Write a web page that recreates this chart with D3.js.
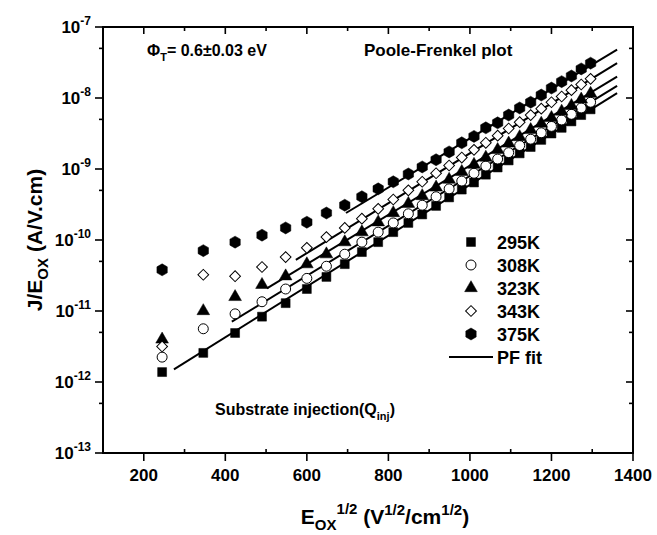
<!DOCTYPE html>
<html>
<head>
<meta charset="utf-8">
<script src="https://cdn.jsdelivr.net/npm/d3@7"></script>
<style>
  body { margin: 0; background: #fff; }
  svg { font-family: "Liberation Sans", Arial, sans-serif; font-weight: bold; }
  .axis-line { stroke: #000; stroke-width: 2; fill: none; }
  .tick { stroke: #000; stroke-width: 1.6; }
  .fit { stroke: #000; stroke-width: 2; fill: none; }
</style>
</head>
<body>
<svg id="chart" width="657" height="535"></svg>
<script>
// sqrt(E) values, V^1/2/cm^1/2
var eSqrt = [245, 346, 424, 490, 548, 600, 648, 693, 735, 775, 812, 849, 883, 917,
             949, 980, 1010, 1039, 1068, 1095, 1122, 1149, 1175, 1200, 1225, 1249, 1273, 1296];

// J/E (A/V.cm) per temperature
var j295 = [1.38e-12, 2.57e-12, 4.90e-12, 8.32e-12, 1.29e-11, 2.04e-11, 3.02e-11, 4.57e-11, 6.76e-11,
            9.33e-11, 1.29e-10, 1.74e-10, 2.29e-10, 3.02e-10, 3.98e-10, 5.13e-10, 6.46e-10, 8.32e-10,
            1.05e-9, 1.32e-9, 1.66e-9, 2.04e-9, 2.57e-9, 3.16e-9, 3.80e-9, 4.68e-9, 5.75e-9, 6.92e-9];
var j308 = [2.24e-12, 5.62e-12, 9.12e-12, 1.35e-11, 2.04e-11, 2.88e-11, 4.27e-11, 6.31e-11, 9.33e-11,
            1.29e-10, 1.74e-10, 2.34e-10, 3.09e-10, 4.07e-10, 5.25e-10, 6.76e-10, 8.71e-10, 1.10e-9,
            1.38e-9, 1.70e-9, 2.14e-9, 2.63e-9, 3.24e-9, 3.98e-9, 4.90e-9, 5.89e-9, 7.24e-9, 8.71e-9];
var j323 = [3.98e-12, 1.00e-11, 1.58e-11, 2.34e-11, 3.09e-11, 4.57e-11, 6.31e-11, 9.33e-11, 1.29e-10,
            1.78e-10, 2.40e-10, 3.24e-10, 4.17e-10, 5.50e-10, 7.08e-10, 9.12e-10, 1.15e-9, 1.45e-9,
            1.86e-9, 2.29e-9, 2.82e-9, 3.55e-9, 4.37e-9, 5.25e-9, 6.46e-9, 7.76e-9, 9.55e-9, 1.15e-8];
var j343 = [3.16e-12, 3.24e-11, 3.09e-11, 4.17e-11, 5.75e-11, 7.76e-11, 1.10e-10, 1.48e-10, 2.00e-10,
            2.75e-10, 3.72e-10, 5.01e-10, 6.61e-10, 8.71e-10, 1.12e-9, 1.45e-9, 1.86e-9, 2.34e-9,
            2.95e-9, 3.72e-9, 4.57e-9, 5.75e-9, 7.08e-9, 8.71e-9, 1.05e-8, 1.29e-8, 1.55e-8, 1.86e-8];
var j375 = [3.80e-11, 7.08e-11, 9.33e-11, 1.17e-10, 1.48e-10, 1.78e-10, 2.40e-10, 3.09e-10, 4.07e-10,
            5.25e-10, 6.61e-10, 8.51e-10, 1.07e-9, 1.35e-9, 1.74e-9, 2.34e-9, 2.88e-9, 3.80e-9,
            4.47e-9, 5.75e-9, 7.24e-9, 8.71e-9, 1.10e-8, 1.38e-8, 1.70e-8, 2.04e-8, 2.57e-8, 3.09e-8];

// PF fit lines: [x0, y0, x1, y1]
var fit295 = [274, 1.51e-12, 1361, 1.17e-8];
var fit308 = [416, 7.08e-12, 1361, 1.48e-8];
var fit323 = [502, 2.09e-11, 1361, 2.00e-8];
var fit343 = [573, 5.25e-11, 1361, 3.09e-8];
var fit375 = [696, 2.40e-10, 1361, 4.79e-8];

var seriesNames = ["295K", "308K", "323K", "343K", "375K"];
var xTicks = [200, 400, 600, 800, 1000, 1200, 1400];
var yExponents = [-7, -8, -9, -10, -11, -12, -13];

(function() {
var svg = d3.select("#chart");
var mLeft = 103, mRight = 633, mTop = 27, mBottom = 453;

var x = d3.scaleLinear().domain([100, 1400]).range([mLeft, mRight]);
var y = d3.scaleLog().domain([1e-13, 1e-7]).range([mBottom, mTop]);

// symbols
function hexPath(r) {
  var p = d3.path();
  for (var i = 0; i < 6; i++) {
    var a = Math.PI / 3 * i - Math.PI / 2;
    if (i === 0) p.moveTo(r * Math.cos(a), r * Math.sin(a));
    else p.lineTo(r * Math.cos(a), r * Math.sin(a));
  }
  p.closePath();
  return p.toString();
}
var markers = [
  { path: d3.symbol().type(d3.symbolSquare).size(80)(), fill: "#000", rot: 0 },
  { path: d3.symbol().type(d3.symbolCircle).size(78)(), fill: "#fff", rot: 0 },
  { path: d3.symbol().type(d3.symbolTriangle).size(70)(), fill: "#000", rot: 0 },
  { path: d3.symbol().type(d3.symbolSquare).size(58)(), fill: "#fff", rot: 45 },
  { path: hexPath(6), fill: "#000", rot: 0 }
];

var series = [j295, j308, j323, j343, j375];
var fits = [fit295, fit308, fit323, fit343, fit375];

// fit lines
var plot = svg.append("g");
fits.forEach(function(f) {
  plot.append("line")
    .attr("class", "fit")
    .attr("x1", x(f[0])).attr("y1", y(f[1]))
    .attr("x2", x(f[2])).attr("y2", y(f[3]));
});

// points
series.forEach(function(vals, si) {
  var m = markers[si];
  plot.selectAll(null)
    .data(vals)
    .enter().append("path")
    .attr("d", m.path)
    .attr("transform", function(d, i) {
      return "translate(" + x(eSqrt[i]) + "," + y(d) + ") rotate(" + m.rot + ")";
    })
    .attr("fill", m.fill)
    .attr("stroke", "#000")
    .attr("stroke-width", m.fill === "#fff" ? 1 : 0.5);
});

// axes frame
svg.append("rect")
  .attr("class", "axis-line")
  .attr("x", mLeft).attr("y", mTop)
  .attr("width", mRight - mLeft).attr("height", mBottom - mTop);

// x ticks
var ticksG = svg.append("g");
d3.range(100, 1401, 100).forEach(function(v) {
  var major = xTicks.indexOf(v) >= 0;
  if (major) {
    ticksG.append("line").attr("class", "tick")
      .attr("x1", x(v)).attr("x2", x(v)).attr("y1", mBottom).attr("y2", mBottom + 8);
  } else {
    ticksG.append("line").attr("class", "tick")
      .attr("x1", x(v)).attr("x2", x(v)).attr("y1", mBottom).attr("y2", mBottom - 4);
  }
  ticksG.append("line").attr("class", "tick")
    .attr("x1", x(v)).attr("x2", x(v)).attr("y1", mTop).attr("y2", mTop + (major ? 7 : 4));
});
xTicks.forEach(function(v) {
  svg.append("text")
    .attr("x", x(v)).attr("y", mBottom + 28)
    .attr("text-anchor", "middle")
    .attr("font-size", 17)
    .text(v);
});

// y ticks
yExponents.forEach(function(e) {
  var v = Math.pow(10, e);
  ticksG.append("line").attr("class", "tick")
    .attr("x1", mLeft).attr("x2", mLeft - 8).attr("y1", y(v)).attr("y2", y(v));
  ticksG.append("line").attr("class", "tick")
    .attr("x1", mRight).attr("x2", mRight - 7).attr("y1", y(v)).attr("y2", y(v));
  if (e < -7) {
    var mv = 5 * v;
    ticksG.append("line").attr("class", "tick")
      .attr("x1", mLeft).attr("x2", mLeft - 4).attr("y1", y(mv)).attr("y2", y(mv));
    ticksG.append("line").attr("class", "tick")
      .attr("x1", mRight).attr("x2", mRight - 4).attr("y1", y(mv)).attr("y2", y(mv));
  }
  var t = svg.append("text")
    .attr("x", mLeft - 12).attr("y", y(v) + 6)
    .attr("text-anchor", "end")
    .attr("font-size", 17);
  t.append("tspan").text("10");
  t.append("tspan").attr("font-size", 12).attr("dy", -8).text(e);
});

// axis titles
var xt = svg.append("text")
  .attr("x", 385).attr("y", 524)
  .attr("text-anchor", "middle")
  .attr("font-size", 21);
xt.append("tspan").text("E");
xt.append("tspan").attr("font-size", 15).attr("dy", 6).text("OX");
xt.append("tspan").attr("font-size", 15).attr("dy", -16).text("1/2");
xt.append("tspan").attr("font-size", 21).attr("dy", 10).text("  (V");
xt.append("tspan").attr("font-size", 15).attr("dy", -9).text("1/2");
xt.append("tspan").attr("font-size", 21).attr("dy", 9).text("/cm");
xt.append("tspan").attr("font-size", 15).attr("dy", -9).text("1/2");
xt.append("tspan").attr("font-size", 21).attr("dy", 9).text(")");

var yt = svg.append("text")
  .attr("transform", "translate(42,240) rotate(-90)")
  .attr("text-anchor", "middle")
  .attr("font-size", 21);
yt.append("tspan").text("J/E");
yt.append("tspan").attr("font-size", 15).attr("dy", 6).text("OX");
yt.append("tspan").attr("font-size", 21).attr("dy", -6).text("  (A/V.cm)");

// annotations
var phi = svg.append("text").attr("x", 147).attr("y", 56).attr("font-size", 16);
phi.append("tspan").text("\u03A6");
phi.append("tspan").attr("font-size", 11).attr("dy", 5).text("T");
phi.append("tspan").attr("dy", -5).text("= 0.6\u00B10.03 eV");

svg.append("text").attr("x", 364).attr("y", 56).attr("font-size", 17).text("Poole-Frenkel plot");

var sub = svg.append("text").attr("x", 215).attr("y", 415).attr("font-size", 16);
sub.append("tspan").text("Substrate injection(Q");
sub.append("tspan").attr("font-size", 11).attr("dy", 5).text("inj");
sub.append("tspan").attr("dy", -5).text(")");

// legend
var lg = svg.append("g").attr("transform", "translate(471,242)");
seriesNames.forEach(function(name, i) {
  var m = markers[i];
  lg.append("path")
    .attr("d", m.path)
    .attr("transform", "translate(0," + (i * 23) + ") rotate(" + m.rot + ")")
    .attr("fill", m.fill)
    .attr("stroke", "#000")
    .attr("stroke-width", m.fill === "#fff" ? 1 : 0.5);
  lg.append("text")
    .attr("x", 26).attr("y", i * 23 + 7)
    .attr("font-size", 18)
    .text(name);
});
lg.append("line").attr("class", "fit")
  .attr("x1", -22).attr("x2", 22).attr("y1", 5 * 23).attr("y2", 5 * 23);
lg.append("text").attr("x", 26).attr("y", 5 * 23 + 7).attr("font-size", 18).text("PF fit");
})();
</script>
</body>
</html>
